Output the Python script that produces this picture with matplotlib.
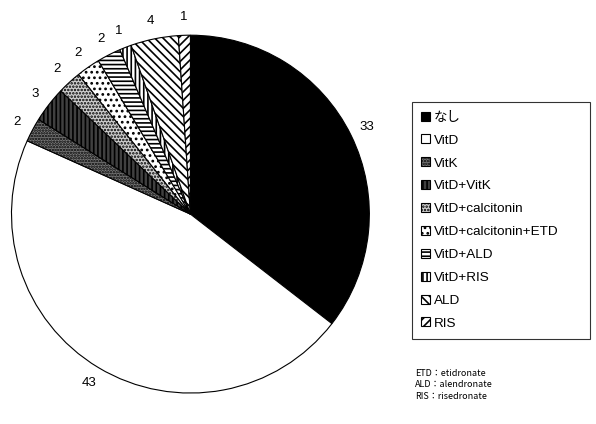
import matplotlib
matplotlib.use("Agg")
import matplotlib.pyplot as plt

plt.rcParams['font.family'] = ['Liberation Sans', 'Noto Sans CJK JP']
plt.rcParams['hatch.linewidth'] = 1.2

# 治療内容ごとの症例数
categories = ['なし', 'VitD', 'VitK', 'VitD+VitK', 'VitD+calcitonin',
              'VitD+calcitonin+ETD', 'VitD+ALD', 'VitD+RIS', 'ALD', 'RIS']
counts = [33, 43, 2, 3, 2, 2, 2, 1, 4, 1]

colors = ['black', 'white', '#7a7a7a', '#404040', '#cfcfcf',
          'white', 'white', 'white', 'white', 'white']
hatches = [None, None, '......', '||||', '.....', '...', '----', '||||',
           '\\\\\\\\', '////']

notes = ['ETD：etidronate', 'ALD：alendronate', 'RIS：risedronate']

fig = plt.figure(figsize=(5.96, 4.24), dpi=100)
ax = fig.add_axes([0.019, 0.073, 0.601, 0.844])

wedges, texts = ax.pie(counts, labels=[str(c) for c in counts],
                       colors=colors, startangle=90, counterclock=False,
                       labeldistance=1.1,
                       wedgeprops=dict(edgecolor='black', linewidth=0.8),
                       textprops=dict(fontsize=9.5))
for w, h in zip(wedges, hatches):
    if h:
        w.set_hatch(h)
for t in texts:
    t.set_ha('center')
    t.set_va('center')
ax.set_xlim(-1, 1)
ax.set_ylim(-1, 1)
ax.set_aspect('equal')

leg = fig.legend(wedges, categories, loc='upper left',
                 bbox_to_anchor=(0.691, 0.198, 0.299, 0.561), mode='expand',
                 borderaxespad=0, fontsize=9.7, frameon=True, fancybox=False,
                 edgecolor='black', handlelength=0.65, handleheight=0.65,
                 handletextpad=0.3, labelspacing=0.79, borderpad=0.7)
leg.get_frame().set_linewidth(0.8)

fig.text(0.696, 0.092, '\n'.join(notes), fontsize=6.5, va='center',
         linespacing=1.35, family=['Noto Sans CJK JP', 'DejaVu Sans'])

fig.savefig('out.png', dpi=100)
